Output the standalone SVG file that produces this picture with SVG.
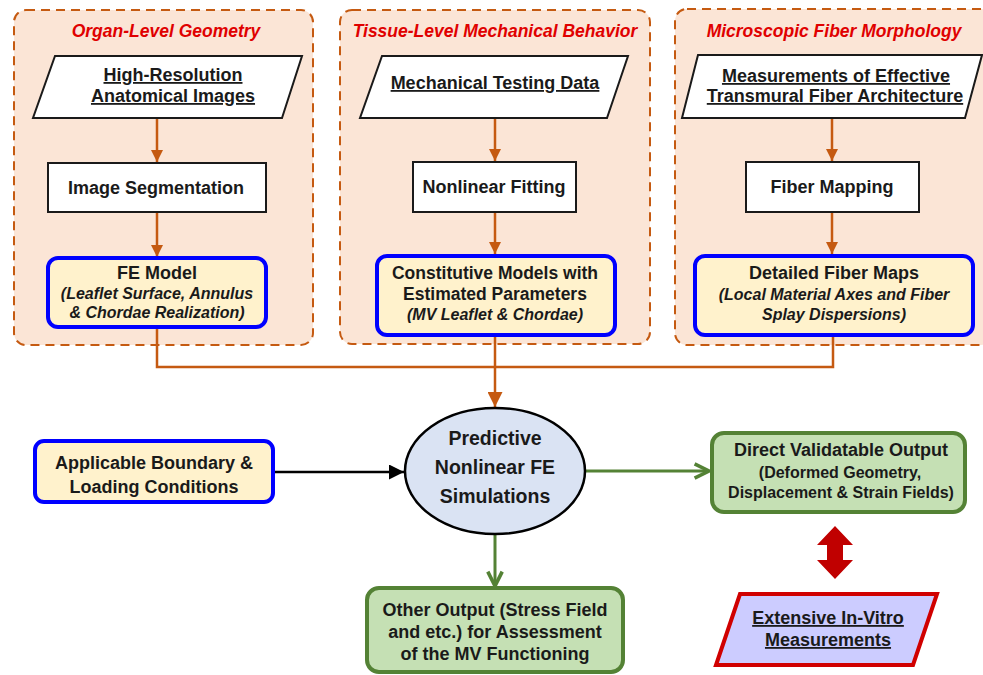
<svg xmlns="http://www.w3.org/2000/svg" width="983" height="675" viewBox="0 0 983 675">
<defs>
<style>
text{font-family:"Liberation Sans",Arial,sans-serif;font-weight:bold;fill:#1a1a1a;text-anchor:middle}
.panel{fill:#fbe5d6;stroke:#c55a11;stroke-width:2;stroke-dasharray:9 6}
.title{fill:#e00000;font-style:italic;font-size:17.5px}
.para{fill:#fff;stroke:#1a1a1a;stroke-width:2}
.rect{fill:#fff;stroke:#1a1a1a;stroke-width:2}
.blue{fill:#fff2cc;stroke:#0000ff;stroke-width:4}
.green{fill:#c5e0b4;stroke:#548235;stroke-width:4}
.t18{font-size:18px}
.t16{font-size:16px}
.it{font-style:italic;font-size:16px}
.u{text-decoration:underline}
.oc{fill:none;stroke:#c55a11;stroke-width:2.5}
.gc{fill:none;stroke:#548235;stroke-width:3}
</style>
<marker id="mo" viewBox="0 0 10 10" refX="10" refY="5" markerWidth="5" markerHeight="5" orient="auto" markerUnits="strokeWidth"><path d="M0,0L10,5L0,10z" fill="#c55a11"/></marker>
<marker id="mo2" viewBox="0 0 10 10" refX="10" refY="5" markerWidth="6" markerHeight="6" orient="auto" markerUnits="strokeWidth"><path d="M0,0L10,5L0,10z" fill="#c55a11"/></marker>
<marker id="mb" viewBox="0 0 10 10" refX="10" refY="5" markerWidth="6" markerHeight="6" orient="auto" markerUnits="strokeWidth"><path d="M0,0L10,5L0,10z" fill="#000"/></marker>
<marker id="mg" viewBox="0 0 10 10" refX="9" refY="5" markerWidth="6" markerHeight="6" orient="auto" markerUnits="strokeWidth"><path d="M1,1L9,5L1,9" fill="none" stroke="#548235" stroke-width="2"/></marker>
</defs>

<g id="panel-organ">
<rect class="panel" x="14" y="10" width="299" height="335" rx="12"/>
<text class="title" x="166" y="37">Organ-Level Geometry</text>
</g>
<g id="panel-tissue">
<rect class="panel" x="340" y="10" width="310" height="334" rx="12"/>
<text class="title" x="495" y="37">Tissue-Level Mechanical Behavior</text>
</g>
<g id="panel-fiber">
<rect class="panel" x="675" y="9" width="318" height="336" rx="12"/>
<text class="title" x="834" y="37">Microscopic Fiber Morphology</text>
</g>

<g id="connectors">
<line class="oc" x1="157" y1="118" x2="157" y2="162" marker-end="url(#mo)"/>
<line class="oc" x1="157" y1="212" x2="157" y2="257" marker-end="url(#mo)"/>
<line class="oc" x1="495" y1="118" x2="495" y2="161" marker-end="url(#mo)"/>
<line class="oc" x1="495" y1="212" x2="495" y2="254" marker-end="url(#mo)"/>
<line class="oc" x1="832" y1="118" x2="832" y2="161" marker-end="url(#mo)"/>
<line class="oc" x1="832" y1="212" x2="832" y2="254" marker-end="url(#mo)"/>
<polyline class="oc" points="157,327 157,367 833,367 833,335"/>
<line class="oc" x1="495" y1="335" x2="495" y2="407" marker-end="url(#mo2)"/>
<line x1="273" y1="472" x2="404" y2="472" stroke="#000" stroke-width="2.5" marker-end="url(#mb)"/>
<line class="gc" x1="585" y1="471" x2="709" y2="471" marker-end="url(#mg)"/>
<line class="gc" x1="495" y1="534" x2="495" y2="586" marker-end="url(#mg)"/>
<path d="M835,526L853,545L843,545L843,560L853,560L835,579L817,560L827,560L827,545L817,545Z" fill="#c00000"/>
</g>

<g id="n-images">
<polygon class="para" points="55,56 302,56 282,118 33,118"/>
<text class="t18 u" x="173" y="81">High-Resolution</text>
<text class="t18 u" x="173" y="102">Anatomical Images</text>
</g>
<g id="n-segmentation">
<rect class="rect" x="48" y="163" width="218" height="49"/>
<text class="t18" x="156" y="194">Image Segmentation</text>
</g>
<g id="n-fe-model">
<rect class="blue" x="48" y="258" width="218" height="69" rx="10"/>
<text class="t18" x="157" y="279">FE Model</text>
<text class="it" x="157" y="299">(Leaflet Surface, Annulus</text>
<text class="it" x="157" y="318">&amp; Chordae Realization)</text>
</g>

<g id="n-testing">
<polygon class="para" points="382,56 628,56 607,118 360,118"/>
<text class="t18 u" x="495" y="89">Mechanical Testing Data</text>
</g>
<g id="n-fitting">
<rect class="rect" x="413" y="162" width="163" height="50"/>
<text class="t18" x="494" y="193">Nonlinear Fitting</text>
</g>
<g id="n-constitutive">
<rect class="blue" x="377" y="256" width="238" height="79" rx="10"/>
<text class="t18" x="495" y="279" style="font-size:17.5px">Constitutive Models with</text>
<text class="t18" x="495" y="300" style="font-size:17.5px">Estimated Parameters</text>
<text class="it" x="495" y="320">(MV Leaflet &amp; Chordae)</text>
</g>

<g id="n-measure-fiber">
<polygon class="para" points="698,55 982,55 965,118 682,118"/>
<text class="t18 u" x="836" y="82">Measurements of Effective</text>
<text class="t18 u" x="835" y="102">Transmural Fiber Architecture</text>
</g>
<g id="n-fiber-mapping">
<rect class="rect" x="746" y="162" width="173" height="50"/>
<text class="t18" x="832" y="193">Fiber Mapping</text>
</g>
<g id="n-fiber-maps">
<rect class="blue" x="695" y="256" width="278" height="79" rx="10"/>
<text class="t18" x="834" y="279">Detailed Fiber Maps</text>
<text class="it" x="834" y="300">(Local Material Axes and Fiber</text>
<text class="it" x="834" y="320">Splay Dispersions)</text>
</g>

<g id="n-boundary">
<rect class="blue" x="35" y="441" width="238" height="61" rx="9"/>
<text class="t18" x="154" y="469">Applicable Boundary &amp;</text>
<text class="t18" x="154" y="493">Loading Conditions</text>
</g>
<g id="n-simulation">
<ellipse cx="495" cy="471" rx="90" ry="63" fill="#dae3f3" stroke="#000" stroke-width="2.5"/>
<text x="495" y="445" style="font-size:19.5px">Predictive</text>
<text x="495" y="474" style="font-size:19.5px">Nonlinear FE</text>
<text x="495" y="503" style="font-size:19.5px">Simulations</text>
</g>
<g id="n-direct">
<rect class="green" x="712" y="433" width="253" height="79" rx="12"/>
<text class="t18" x="841" y="456">Direct Validatable Output</text>
<text class="t16" x="840" y="478">(Deformed Geometry,</text>
<text class="t16" x="841" y="498">Displacement &amp; Strain Fields)</text>
</g>
<g id="n-other">
<rect class="green" x="367" y="588" width="256" height="84" rx="12"/>
<text class="t18" x="495" y="616">Other Output (Stress Field</text>
<text class="t18" x="495" y="638">and etc.) for Assessment</text>
<text class="t18" x="495" y="660">of the MV Functioning</text>
</g>
<g id="n-invitro">
<polygon points="740,594 937,594 913,665 716,665" fill="#ccccff" stroke="#d00000" stroke-width="4"/>
<text class="t18 u" x="828" y="624">Extensive In-Vitro</text>
<text class="t18 u" x="828" y="646">Measurements</text>
</g>
</svg>
